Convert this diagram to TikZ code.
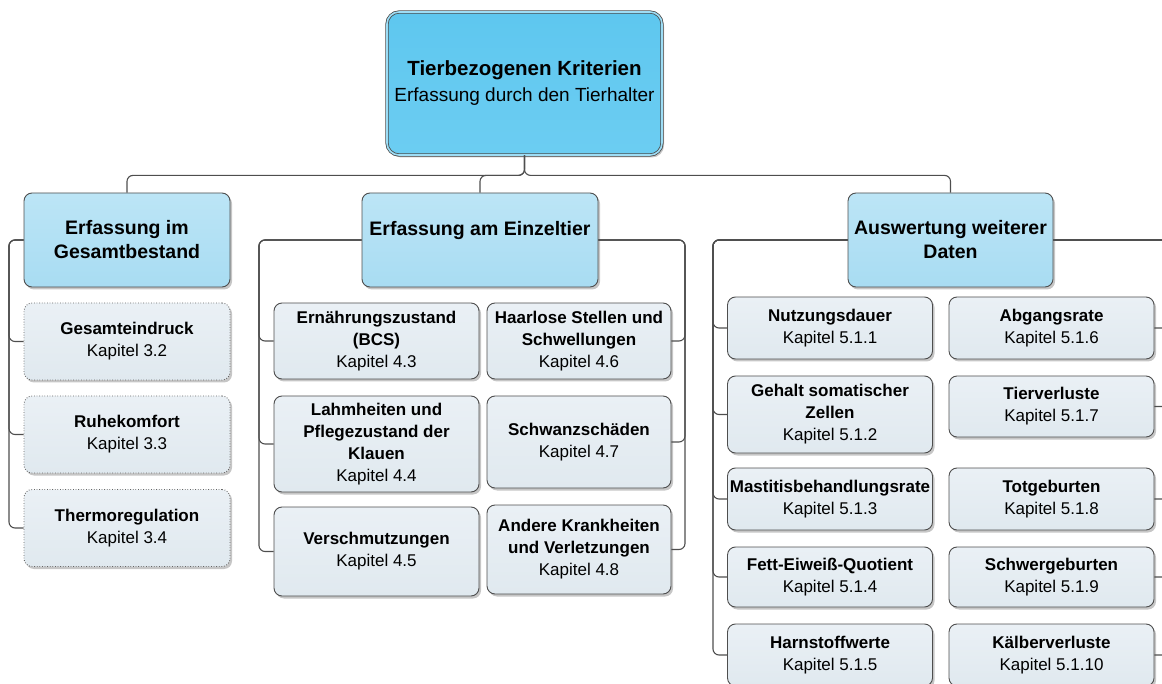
\documentclass[tikz,border=0pt]{standalone}
\usepackage{fontspec}
\setmainfont{Liberation Sans}
\usetikzlibrary{shadows}

\definecolor{rootblue}{RGB}{94,199,239}
\definecolor{rootlite}{RGB}{108,205,242}
\definecolor{headblue}{RGB}{168,220,242}
\definecolor{headlite}{RGB}{188,229,246}
\definecolor{leafgray}{RGB}{224,233,239}
\definecolor{leaflite}{RGB}{234,240,245}
\definecolor{edgegray}{RGB}{78,78,78}

\begin{document}
\begin{tikzpicture}[x=1pt,y=-1pt,
  box/.style={rounded corners=8pt, draw=edgegray, line width=0.9pt,
    inner xsep=0pt, inner ysep=1pt, align=center,
    drop shadow={shadow xshift=2pt, shadow yshift=-2.5pt, fill=black!50, opacity=0.45}},
  rootbox/.style={box, rounded corners=12pt, draw=black!70, line width=0.8pt,
    double=rootblue!60!white, double distance=1.6pt,
    top color=rootblue, bottom color=rootlite,
    font=\fontsize{19}{26}\selectfont},
  headbox/.style={box, top color=headlite, bottom color=headblue,
    minimum height=94, font=\fontsize{19.5}{24}\selectfont\bfseries},
  leafbox/.style={box, top color=leaflite, bottom color=leafgray,
    font=\fontsize{17}{22}\selectfont},
  dotbox/.style={leafbox, draw=black!60, dash pattern=on 0.8pt off 1.8pt},
  link/.style={draw=edgegray, line width=1.1pt, rounded corners=6pt}]

\path[use as bounding box, clip] (0,0) rectangle (1162,684);

%-------------------------------------------------------------------
% Root and the three branches
\node[rootbox, minimum width=275, minimum height=143] (root) at (524.5,83.5)
  {{\fontsize{20.5}{26}\selectfont\bfseries Tierbezogenen Kriterien}\\Erfassung durch den Tierhalter};

\node[headbox, minimum width=206] (gb) at (127,240) {Erfassung im\\Gesamtbestand};
\node[headbox, minimum width=236] (ez) at (480,240) {Erfassung am Einzeltier\\\mbox{}};
\node[headbox, minimum width=205] (aw) at (950.5,240) {Auswertung weiterer\\Daten};

\foreach \h in {gb,ez,aw}{
    \draw[link] (root.south) -- ++(0,20) -| (\h.north);
}

%-------------------------------------------------------------------
% Erfassung im Gesamtbestand
\foreach \n/\y/\t in {g1/341.5/{\textbf{Gesamteindruck}\\Kapitel 3.2},
                      g2/434.5/{\textbf{Ruhekomfort}\\Kapitel 3.3},
                      g3/528/{\textbf{Thermoregulation}\\Kapitel 3.4}}{
    \node[dotbox, minimum width=206, minimum height=77] (\n) at (127,\y) {\t};
}
\coordinate (gbL) at (9,240);
\foreach \n in {g1,g2,g3}{
    \draw[link] (gb.west) -- (gbL) |- (\n.west);
}

%-------------------------------------------------------------------
% Erfassung am Einzeltier (two columns)
\foreach \n/\x/\y/\w/\h/\t in {
    e1/376.5/341/205/76/{\textbf{Ern\"ahrungszustand}\\\textbf{(BCS)}\\Kapitel 4.3},
    e2/376.5/444/205/96/{\textbf{Lahmheiten und}\\\textbf{Pflegezustand der}\\\textbf{Klauen}\\Kapitel 4.4},
    e3/376.5/551.5/205/89/{\textbf{Verschmutzungen}\\Kapitel 4.5},
    e4/579/341/184/76/{\textbf{Haarlose Stellen und}\\\textbf{Schwellungen}\\Kapitel 4.6},
    e5/579/442/184/92/{\textbf{Schwanzsch\"aden}\\Kapitel 4.7},
    e6/579/549.5/184/89/{\textbf{Andere Krankheiten}\\\textbf{und Verletzungen}\\Kapitel 4.8}}{
    \node[leafbox, minimum width=\w, minimum height=\h] (\n) at (\x,\y) {\t};
}
\coordinate (ezL) at (259,240);
\coordinate (ezR) at (685,240);
\foreach \n in {e1,e2,e3}{
    \draw[link] (ez.west) -- (ezL) |- (\n.west);
}
\foreach \n in {e4,e5,e6}{
    \draw[link] (ez.east) -- (ezR) |- (\n.east);
}

%-------------------------------------------------------------------
% Auswertung weiterer Daten (right column runs off the page)
\foreach \n/\x/\y/\h/\t in {
    a1/830/328/62/{\textbf{Nutzungsdauer}\\Kapitel 5.1.1},
    a2/830/414.5/77/{\textbf{Gehalt somatischer}\\\textbf{Zellen}\\Kapitel 5.1.2},
    a3/830/499/62/{\textbf{Mastitisbehandlungsrate}\\Kapitel 5.1.3},
    a4/830/577/60/{\textbf{Fett-Eiwei\ss-Quotient}\\Kapitel 5.1.4},
    a5/830/655/62/{\textbf{Harnstoffwerte}\\Kapitel 5.1.5},
    a6/1051.5/328/62/{\textbf{Abgangsrate}\\Kapitel 5.1.6},
    a7/1051.5/406.5/61/{\textbf{Tierverluste}\\Kapitel 5.1.7},
    a8/1051.5/499/62/{\textbf{Totgeburten}\\Kapitel 5.1.8},
    a9/1051.5/577/60/{\textbf{Schwergeburten}\\Kapitel 5.1.9},
    a10/1051.5/655/62/{\textbf{K\"alberverluste}\\Kapitel 5.1.10}}{
    \node[leafbox, minimum width=205, minimum height=\h] (\n) at (\x,\y) {\t};
}
\coordinate (awL) at (713,240);
\coordinate (awR) at (1172,240);
\foreach \n in {a1,a2,a3,a4,a5}{
    \draw[link] (aw.west) -- (awL) |- (\n.west);
}
\foreach \n in {a6,a7,a8,a9,a10}{
    \draw[link] (aw.east) -- (awR) |- (\n.east);
}

\end{tikzpicture}
\end{document}
